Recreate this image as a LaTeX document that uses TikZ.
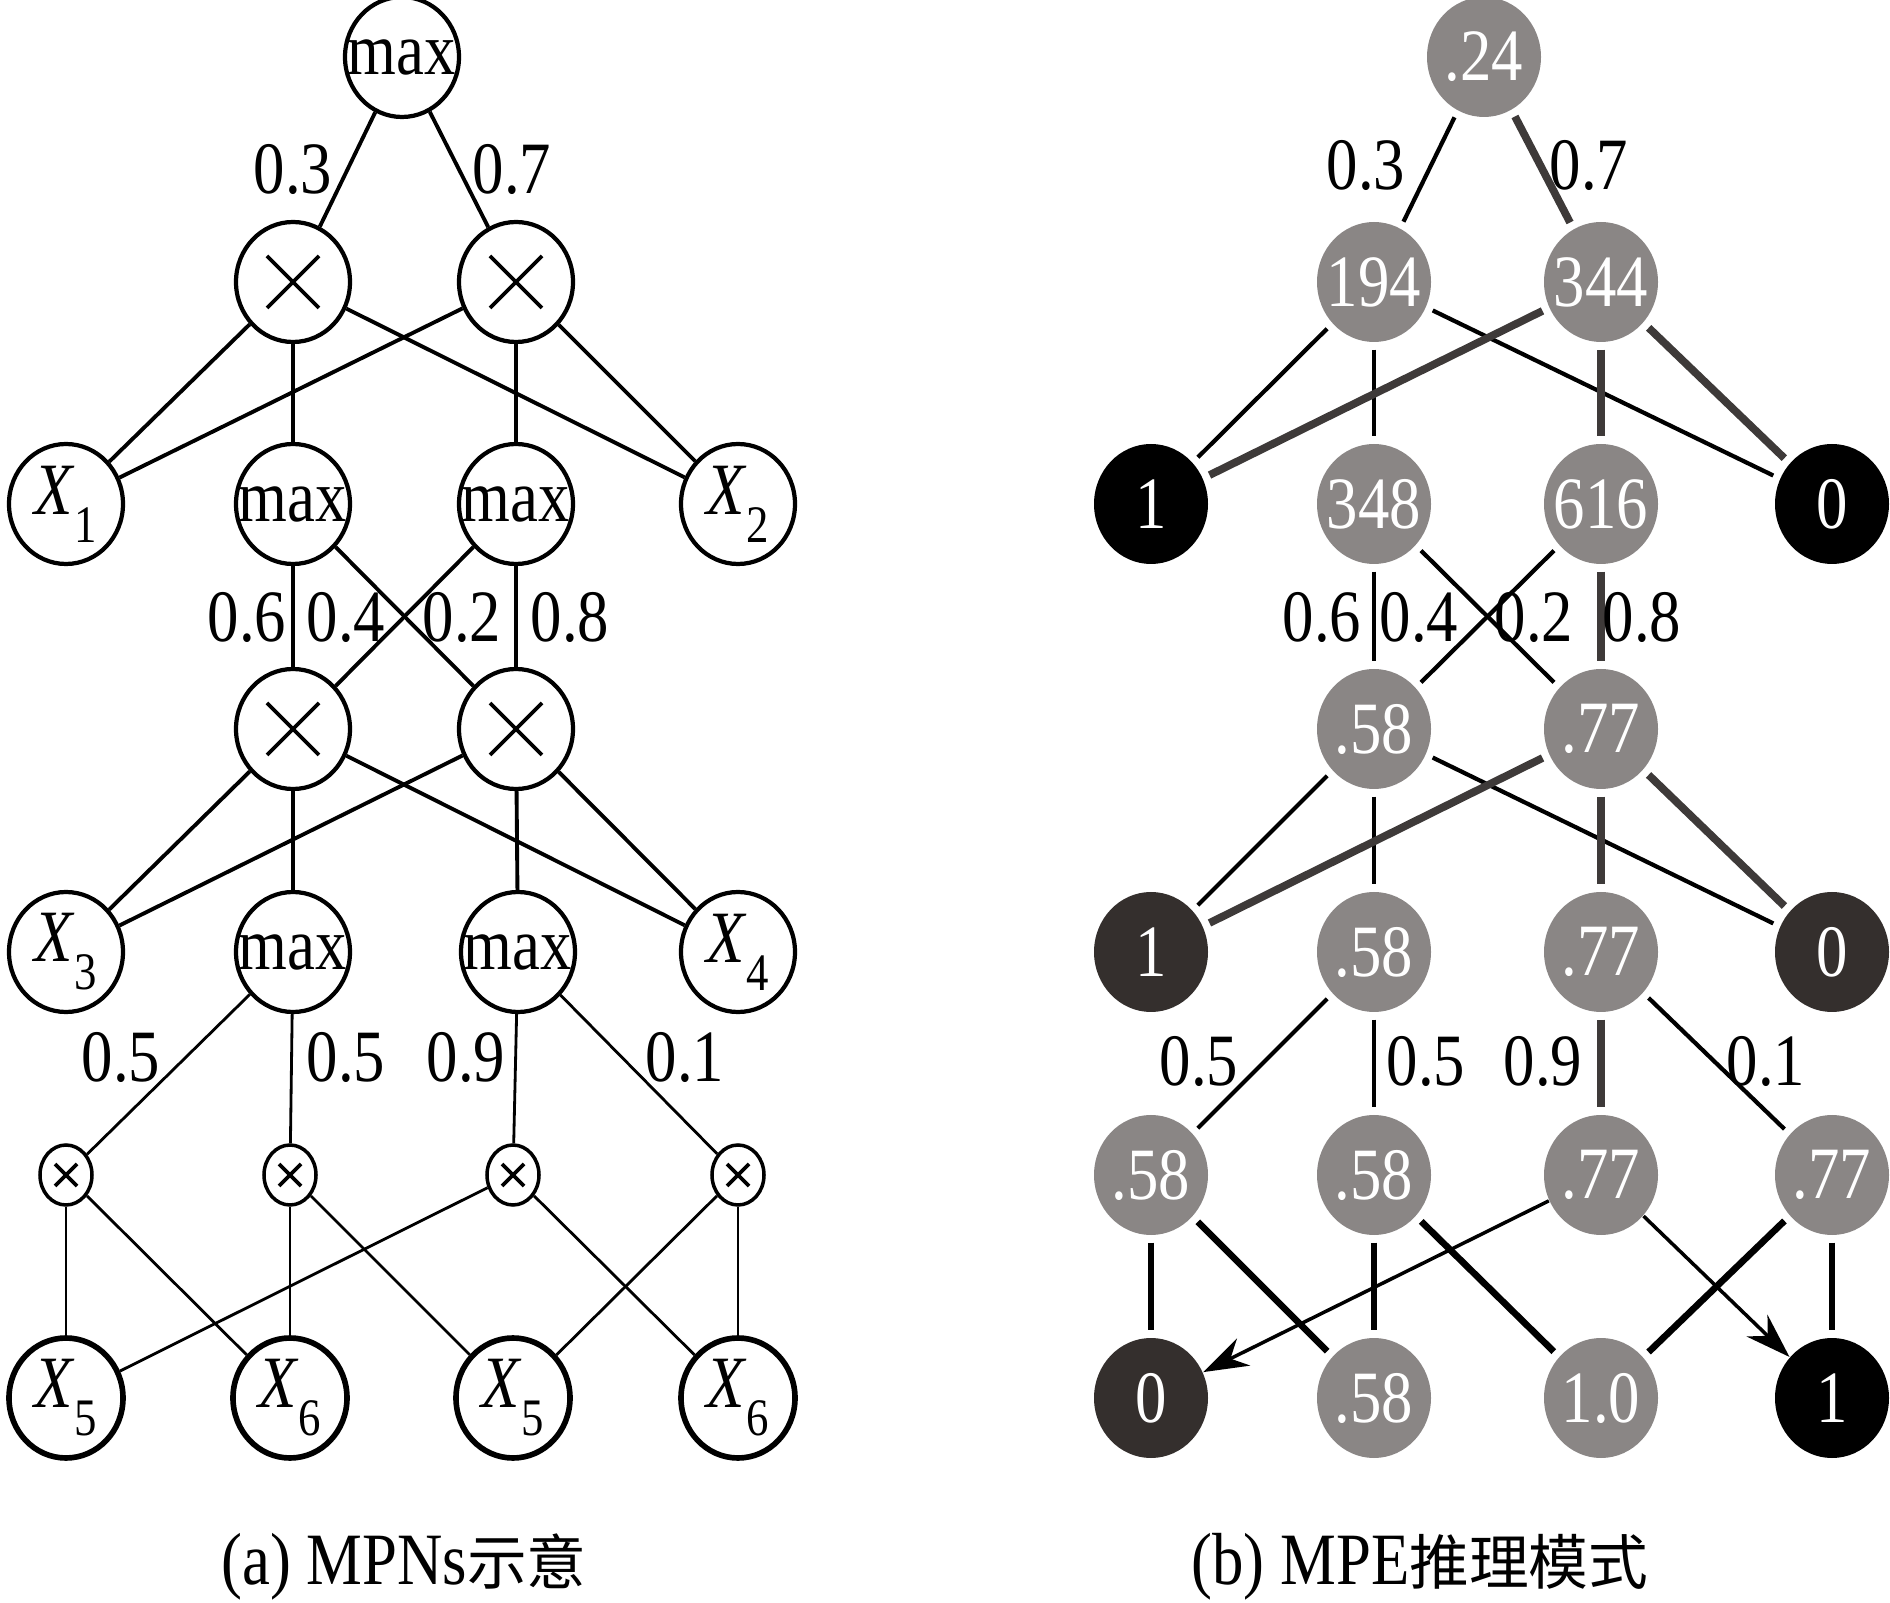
\documentclass[tikz,border=0pt]{standalone}
\usepackage{fontspec}
\setmainfont[FakeStretch=0.85]{Liberation Serif}
\newfontfamily\cjk{Noto Sans CJK SC}
\usetikzlibrary{shapes.geometric,arrows.meta}
\definecolor{nodegray}{RGB}{138,134,133}
\definecolor{darknode}{RGB}{52,47,45}
\definecolor{boldgray}{RGB}{62,58,57}
\newcommand{\nt}[1]{\makebox[0pt]{#1}}
\newcommand{\xv}[1]{\textit{X}\raisebox{-0.38em}{\fontsize{15}{15}\selectfont #1}}
\tikzset{
  every node/.style={font=\fontsize{21}{25}\selectfont},
  opnode/.style={ellipse,draw,line width=1.2pt,minimum width=1.14cm,minimum height=1.2cm,inner sep=0pt},
  leafnode/.style={opnode,line width=1.6pt},
  crossed/.style={path picture={\draw[line width=1.1pt]
      ([shift={(-#1,-#1)}]path picture bounding box.center) -- ([shift={(#1,#1)}]path picture bounding box.center)
      ([shift={(-#1,#1)}]path picture bounding box.center) -- ([shift={(#1,-#1)}]path picture bounding box.center);}},
  prodbig/.style={opnode,crossed=0.26},
  prodsmall/.style={ellipse,draw,line width=1pt,minimum width=0.52cm,minimum height=0.6cm,inner sep=0pt,crossed=0.11},
  link/.style={line width=1.1pt},
  thinlink/.style={line width=0.8pt},
  wt/.style={inner sep=0pt},
  valnode/.style={ellipse,fill=nodegray,text=white,minimum width=1.14cm,minimum height=1.2cm,inner sep=0pt},
  blknode/.style={valnode,fill=black},
  drknode/.style={valnode,fill=darknode},
  redge/.style={line width=1.2pt,shorten >=2pt,shorten <=2pt},
  rdark/.style={line width=1.9pt,shorten >=2pt,shorten <=2pt},
  rbold/.style={line width=2.2pt,draw=boldgray,shorten >=2pt,shorten <=2pt},
  mpe/.style={line width=1pt,-{Stealth[length=0.45cm,width=0.3cm]}}
}
\begin{document}
\begin{tikzpicture}
\useasboundingbox (0,0) rectangle (18.9,-16.03);
% (a) MPN
\node[opnode] (lm0) at (4.02,-0.57) {\nt{max}};
\node[prodbig] (lp1a) at (2.93,-2.82) {};
\node[prodbig] (lp1b) at (5.16,-2.82) {};
\node[opnode] (lx1) at (0.66,-5.04) {\nt{\xv{1}}};
\node[opnode] (lm2a) at (2.93,-5.04) {\nt{max}};
\node[opnode] (lm2b) at (5.16,-5.04) {\nt{max}};
\node[opnode] (lx2) at (7.38,-5.04) {\nt{\xv{2}}};
\node[prodbig] (lp3a) at (2.93,-7.29) {};
\node[prodbig] (lp3b) at (5.16,-7.29) {};
\node[opnode] (lx3) at (0.66,-9.52) {\nt{\xv{3}}};
\node[opnode] (lm4a) at (2.93,-9.52) {\nt{max}};
\node[opnode] (lm4b) at (5.18,-9.52) {\nt{max}};
\node[opnode] (lx4) at (7.38,-9.52) {\nt{\xv{4}}};
\node[prodsmall] (ls5a) at (0.66,-11.75) {};
\node[prodsmall] (ls5b) at (2.9,-11.75) {};
\node[prodsmall] (ls5c) at (5.13,-11.75) {};
\node[prodsmall] (ls5d) at (7.38,-11.75) {};
\node[leafnode] (lx5a) at (0.66,-13.98) {\nt{\xv{5}}};
\node[leafnode] (lx6a) at (2.9,-13.98) {\nt{\xv{6}}};
\node[leafnode] (lx5b) at (5.13,-13.98) {\nt{\xv{5}}};
\node[leafnode] (lx6b) at (7.38,-13.98) {\nt{\xv{6}}};
\foreach \a/\b in {lm0/lp1a,lm0/lp1b,lp1a/lx1,lp1a/lm2a,lp1a/lx2,lp1b/lx1,lp1b/lm2b,lp1b/lx2,
    lm2a/lp3a,lm2a/lp3b,lm2b/lp3a,lm2b/lp3b,lp3a/lx3,lp3a/lm4a,lp3a/lx4,lp3b/lx3,lp3b/lm4b,lp3b/lx4}
  \draw[link] (\a) -- (\b);
\foreach \a/\b in {lm4a/ls5a,lm4a/ls5b,lm4b/ls5c,lm4b/ls5d,ls5a/lx5a,ls5a/lx6a,ls5b/lx6a,ls5b/lx5b,
    ls5c/lx5a,ls5c/lx6b,ls5d/lx5b,ls5d/lx6b}
  \draw[thinlink] (\a) -- (\b);
\foreach \p/\t [count=\i] in {{(2.93,-1.69)}/0.3,{(5.12,-1.69)}/0.7,{(2.47,-6.17)}/0.6,{(3.46,-6.17)}/0.4,
    {(4.62,-6.17)}/0.2,{(5.7,-6.17)}/0.8,{(1.21,-10.57)}/0.5,{(3.46,-10.57)}/0.5,{(4.66,-10.57)}/0.9,{(6.85,-10.57)}/0.1}
  \node[wt] (lw\i) at \p {\t};
\node (capa) at (4.04,-15.67) {(a) MPNs{\cjk\fontsize{17}{20}\selectfont 示意}};
% (b) MPE
\node[valnode] (rm0) at (14.84,-0.57) {\nt{.24}};
\node[valnode] (rp1a) at (13.74,-2.82) {\nt{194}};
\node[valnode] (rp1b) at (16.01,-2.82) {\nt{344}};
\node[blknode] (rx1) at (11.51,-5.04) {\nt{1}};
\node[valnode] (rm2a) at (13.74,-5.04) {\nt{348}};
\node[valnode] (rm2b) at (16.01,-5.04) {\nt{616}};
\node[blknode] (rx2) at (18.32,-5.04) {\nt{0}};
\node[valnode] (rp3a) at (13.74,-7.29) {\nt{.58}};
\node[valnode] (rp3b) at (16.01,-7.29) {\nt{.77}};
\node[drknode] (rx3) at (11.51,-9.52) {\nt{1}};
\node[valnode] (rm4a) at (13.74,-9.52) {\nt{.58}};
\node[valnode] (rm4b) at (16.01,-9.52) {\nt{.77}};
\node[drknode] (rx4) at (18.32,-9.52) {\nt{0}};
\node[valnode] (rs5a) at (11.51,-11.75) {\nt{.58}};
\node[valnode] (rs5b) at (13.74,-11.75) {\nt{.58}};
\node[valnode] (rs5c) at (16.01,-11.75) {\nt{.77}};
\node[valnode] (rs5d) at (18.32,-11.75) {\nt{.77}};
\node[drknode] (rx5a) at (11.51,-13.98) {\nt{0}};
\node[valnode] (rx6a) at (13.74,-13.98) {\nt{.58}};
\node[valnode] (rx5b) at (16.01,-13.98) {\nt{1.0}};
\node[blknode] (rx6b) at (18.32,-13.98) {\nt{1}};
\foreach \a/\b in {rm0/rp1a,rp1a/rx1,rp1a/rm2a,rp1a/rx2,rm2a/rp3a,rm2a/rp3b,rm2b/rp3a,
    rp3a/rx3,rp3a/rm4a,rp3a/rx4,rm4a/rs5a,rm4a/rs5b,rm4b/rs5d}
  \draw[redge] (\a) -- (\b);
\foreach \a/\b in {rs5a/rx5a,rs5a/rx6a,rs5b/rx6a,rs5b/rx5b,rs5d/rx5b,rs5d/rx6b}
  \draw[rdark] (\a) -- (\b);
\foreach \a/\b in {rm0/rp1b,rp1b/rx1,rp1b/rm2b,rp1b/rx2,rm2b/rp3b,rp3b/rx3,rp3b/rm4b,rp3b/rx4,rm4b/rs5c}
  \draw[rbold] (\a) -- (\b);
\draw[mpe] (rs5c) -- (rx5a);
\draw[mpe] (rs5c) -- (rx6b);
\foreach \p/\t [count=\i] in {{(13.66,-1.65)}/0.3,{(15.89,-1.65)}/0.7,{(13.22,-6.17)}/0.6,{(14.19,-6.17)}/0.4,
    {(15.34,-6.17)}/0.2,{(16.42,-6.17)}/0.8,{(11.99,-10.61)}/0.5,{(14.26,-10.61)}/0.5,{(15.43,-10.61)}/0.9,{(17.66,-10.61)}/0.1}
  \node[wt] (rw\i) at \p {\t};
\node (capb) at (14.2,-15.67) {(b) MPE{\cjk\fontsize{17}{20}\selectfont 推理模式}};
\end{tikzpicture}
\end{document}
